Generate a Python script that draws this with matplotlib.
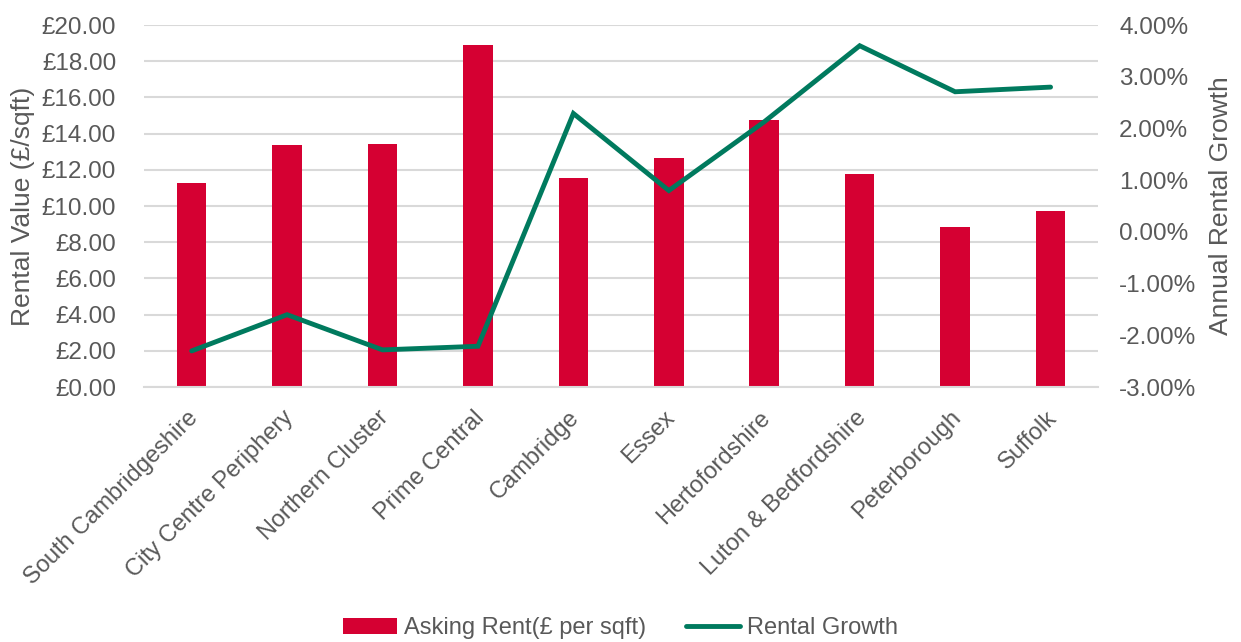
import matplotlib
matplotlib.use('Agg')
from matplotlib import pyplot as plt
from matplotlib.ticker import FuncFormatter, MultipleLocator
from matplotlib.transforms import ScaledTranslation
import numpy as np

plt.rcParams['font.family'] = ['Liberation Sans', 'DejaVu Sans']

# asking rents and annual rental growth by area
areas = ['South Cambridgeshire', 'City Centre Periphery', 'Northern Cluster', 'Prime Central',
         'Cambridge', 'Essex', 'Hertofordshire', 'Luton & Bedfordshire', 'Peterborough', 'Suffolk']
asking_rent = [11.25, 13.37, 13.41, 18.90, 11.53, 12.67, 14.75, 11.75, 8.86, 9.74]
rental_growth = [-2.30, -1.60, -2.28, -2.21, 2.29, 0.80, 2.13, 3.60, 2.71, 2.80]

bar_color = '#D50032'
line_color = '#007A5E'
text_color = '#595959'
grid_color = '#D9D9D9'
fs = 17.5

fig = plt.figure(figsize=(12.41, 6.42), dpi=100)
ax = fig.add_axes([0.116, 0.397, 0.769, 0.564])
ax2 = ax.twinx()

x = np.arange(len(areas))
bars = ax.bar(x, asking_rent, width=0.31, color=bar_color, zorder=2,
              label='Asking Rent(£ per sqft)')
line, = ax2.plot(x, rental_growth, color=line_color, linewidth=3.5,
                 solid_capstyle='round', solid_joinstyle='miter', label='Rental Growth')

ax.set_xlim(-0.5, len(areas) - 0.5)
ax.set_ylim(0, 20)
ax.yaxis.set_major_locator(MultipleLocator(2))
ax.yaxis.set_major_formatter(FuncFormatter(lambda v, p: '£%.2f' % v))
ax2.set_ylim(-3, 4)
ax2.yaxis.set_major_locator(MultipleLocator(1))
ax2.yaxis.set_major_formatter(FuncFormatter(lambda v, p: '%.2f%%' % v))

ax.grid(axis='y', color=grid_color, linewidth=1.5, zorder=0)
ax.set_axisbelow(True)
for a in (ax, ax2):
    for s in a.spines.values():
        s.set_visible(False)
ax.spines['bottom'].set_visible(True)
ax.spines['bottom'].set_color(grid_color)
ax.spines['bottom'].set_linewidth(1.5)

ax.set_xticks(x)
ax.set_xticklabels(areas, rotation=45, ha='right', va='top', rotation_mode='anchor')
ax.tick_params(axis='x', length=0, pad=14, labelsize=17, labelcolor=text_color)
ax.tick_params(axis='y', length=0, pad=20, labelsize=fs, labelcolor=text_color)
ax2.tick_params(axis='y', length=0, pad=15, labelsize=fs, labelcolor=text_color)
# nudge the slanted area names a little to the left
shift = ScaledTranslation(-5 / 100, 0, fig.dpi_scale_trans)
for lbl in ax.get_xticklabels():
    lbl.set_transform(lbl.get_transform() + shift)

ax.set_ylabel('Rental Value (£/sqft)', fontsize=19, color=text_color, labelpad=5)
ax2.set_ylabel('Annual Rental Growth', fontsize=19, color=text_color, labelpad=9)

fig.legend(handles=[bars, line], loc='center', bbox_to_anchor=(0.5, 1 - 628 / 642),
           ncol=2, frameon=False, fontsize=17, labelcolor=text_color,
           handlelength=2.3, handleheight=0.64, handletextpad=0.3, columnspacing=1.65)

fig.savefig('out.png', dpi=100, facecolor='white')
